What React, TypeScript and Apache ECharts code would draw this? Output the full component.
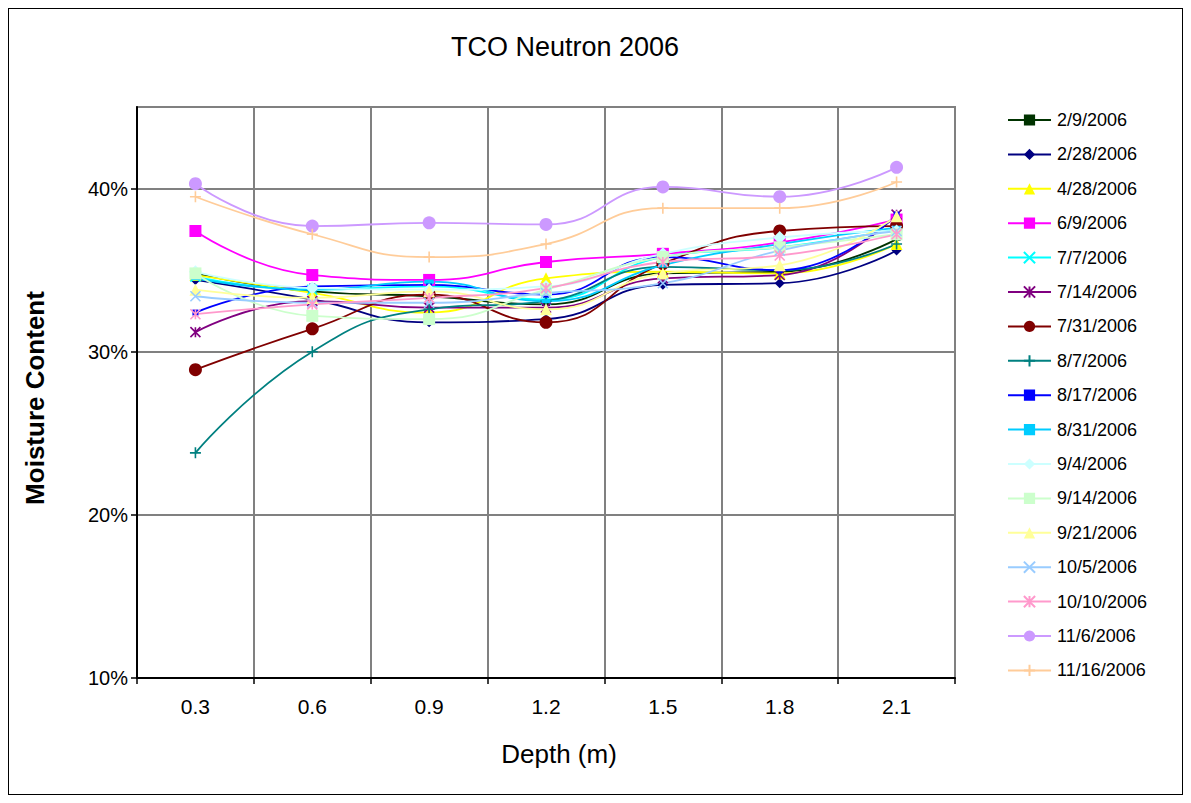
import React, { useEffect, useRef } from "react";
import * as echarts from "echarts";

// Depth categories (m)
const depths = ["0.3", "0.6", "0.9", "1.2", "1.5", "1.8", "2.1"];

// Moisture content (%) per survey date, one value per depth
const d0209 = [34.8, 33.7, 33.4, 32.9, 34.8, 34.9, 36.9];
const d0228 = [34.4, 33.2, 31.8, 32.0, 34.1, 34.2, 36.2];
const d0428 = [34.7, 33.6, 32.4, 34.5, 34.9, 34.8, 36.6];
const d0609 = [37.4, 34.7, 34.4, 35.5, 36.0, 36.7, 38.1];
const d0707 = [34.6, 33.8, 34.0, 33.2, 35.8, 36.4, 37.5];
const d0714 = [31.2, 33.1, 32.7, 32.7, 34.5, 34.7, 38.4];
const d0731 = [28.9, 31.4, 33.5, 31.8, 35.4, 37.4, 37.7];
const d0807 = [23.8, 30.0, 32.6, 33.1, 35.2, 35.0, 36.6];
const d0817 = [32.4, 34.0, 34.1, 33.5, 35.8, 35.0, 38.4];
const d0831 = [34.5, 33.8, 34.3, 33.1, 35.3, 36.6, 37.6];
const d0904 = [34.9, 33.9, 33.8, 34.0, 36.0, 37.0, 37.4];
const d0914 = [34.8, 32.2, 32.0, 33.8, 35.8, 36.4, 37.2];
const d0921 = [33.8, 33.3, 33.7, 32.6, 34.8, 35.3, 38.3];
const d1005 = [33.4, 33.0, 33.0, 33.6, 34.2, 36.2, 37.4];
const d1010 = [32.3, 32.9, 33.3, 33.9, 35.5, 35.9, 37.2];
const d1106 = [40.3, 37.7, 37.9, 37.8, 40.1, 39.5, 41.3];
const d1116 = [39.5, 37.2, 35.8, 36.6, 38.8, 38.8, 40.4];

// Y axis (%)
const yMin = 10;
const yMax = 45;
const yStep = 5;
const yLabelValues = [10, 20, 30, 40];

const XMARK = "path://M0,0L10,10M10,0L0,10";
const STAR = "path://M0,0L10,10M10,0L0,10M5,0L5,10";
const PLUS = "path://M5,0L5,10M0,5L10,5";

type SeriesDef = {
  name: string;
  data: number[];
  color: string;
  symbol: string;
  size: number | number[];
  stroke?: boolean;
};

const seriesDefs: SeriesDef[] = [
  { name: "2/9/2006", data: d0209, color: "#003300", symbol: "rect", size: [8, 3] },
  { name: "2/28/2006", data: d0228, color: "#000080", symbol: "diamond", size: 10 },
  { name: "4/28/2006", data: d0428, color: "#FFFF00", symbol: "triangle", size: 12 },
  { name: "6/9/2006", data: d0609, color: "#FF00FF", symbol: "rect", size: 12 },
  { name: "7/7/2006", data: d0707, color: "#00FFFF", symbol: XMARK, size: 10, stroke: true },
  { name: "7/14/2006", data: d0714, color: "#800080", symbol: STAR, size: 10, stroke: true },
  { name: "7/31/2006", data: d0731, color: "#800000", symbol: "circle", size: 13 },
  { name: "8/7/2006", data: d0807, color: "#008080", symbol: PLUS, size: 11, stroke: true },
  { name: "8/17/2006", data: d0817, color: "#0000FF", symbol: "rect", size: 6 },
  { name: "8/31/2006", data: d0831, color: "#00CCFF", symbol: "rect", size: [9, 4] },
  { name: "9/4/2006", data: d0904, color: "#CCFFFF", symbol: "diamond", size: 13 },
  { name: "9/14/2006", data: d0914, color: "#CCFFCC", symbol: "rect", size: 12 },
  { name: "9/21/2006", data: d0921, color: "#FFFF99", symbol: "triangle", size: 12 },
  { name: "10/5/2006", data: d1005, color: "#99CCFF", symbol: XMARK, size: 10, stroke: true },
  { name: "10/10/2006", data: d1010, color: "#FF99CC", symbol: STAR, size: 10, stroke: true },
  { name: "11/6/2006", data: d1106, color: "#CC99FF", symbol: "circle", size: 13 },
  { name: "11/16/2006", data: d1116, color: "#FFCC99", symbol: PLUS, size: 11, stroke: true },
];

const FONT = "'Liberation Sans', Arial, sans-serif";

export default function App() {
  const ref = useRef<HTMLDivElement>(null);

  useEffect(() => {
    if (!ref.current) return;
    const chart = echarts.init(ref.current, undefined, { renderer: "svg" });

    const series = seriesDefs.map((s) => ({
      name: s.name,
      type: "line",
      data: s.data,
      smooth: 0.5,
      symbol: s.symbol,
      symbolSize: s.size,
      showSymbol: true,
      lineStyle: { color: s.color, width: 1.8 },
      itemStyle: s.stroke
        ? { color: s.color, borderColor: s.color, borderWidth: 1.6 }
        : { color: s.color, borderWidth: 0 },
      emphasis: { disabled: true },
    }));

    chart.setOption({
      animation: false,
      backgroundColor: "#ffffff",
      textStyle: { fontFamily: FONT },
      grid: {
        left: 128,
        top: 98,
        width: 818,
        height: 571,
        show: true,
        borderColor: "#808080",
        borderWidth: 2,
        backgroundColor: "transparent",
      },
      graphic: [
        {
          type: "text",
          x: 556,
          y: 38,
          style: { text: "TCO Neutron 2006", font: `27px ${FONT}`, fill: "#000", textAlign: "center", textVerticalAlign: "middle" },
        },
        {
          type: "text",
          x: 550,
          y: 745,
          style: { text: "Depth (m)", font: `26px ${FONT}`, fill: "#000", textAlign: "center", textVerticalAlign: "middle" },
        },
        {
          type: "text",
          x: 26,
          y: 389,
          rotation: Math.PI / 2,
          style: { text: "Moisture Content", font: `bold 26px ${FONT}`, fill: "#000", textAlign: "center", textVerticalAlign: "middle" },
        },
      ],
      legend: {
        orient: "vertical",
        left: 993,
        top: 97,
        itemWidth: 43,
        itemHeight: 14,
        itemGap: 16.4,
        textStyle: { fontSize: 18, fontFamily: FONT, color: "#000", padding: [0, 0, 0, 1] },
        data: seriesDefs.map((s) => s.name),
      },
      xAxis: {
        type: "category",
        data: depths,
        boundaryGap: true,
        axisLine: { lineStyle: { color: "#000", width: 2 } },
        axisTick: { show: true, length: 6, lineStyle: { color: "#000", width: 1.5 } },
        axisLabel: { fontSize: 21, color: "#000", margin: 18, fontFamily: FONT },
        splitLine: { show: true, lineStyle: { color: "#808080", width: 2 } },
      },
      yAxis: {
        type: "value",
        min: yMin,
        max: yMax,
        interval: yStep,
        axisLine: { show: true, lineStyle: { color: "#000", width: 2 } },
        axisTick: { show: true, length: 6, customValues: yLabelValues, lineStyle: { color: "#000", width: 1.5 } },
        axisLabel: {
          fontSize: 20,
          color: "#000",
          margin: 9,
          fontFamily: FONT,
          customValues: yLabelValues,
          formatter: (v: number) => `${v}%`,
        },
        splitLine: { show: true, lineStyle: { color: "#808080", width: 2 } },
      },
      series,
    });

    return () => chart.dispose();
  }, []);

  return (
    <div
      style={{
        width: 1175,
        height: 787,
        border: "1px solid #000",
        boxSizing: "border-box",
        background: "#fff",
      }}
    >
      <div ref={ref} style={{ width: 1173, height: 785 }} />
    </div>
  );
}
